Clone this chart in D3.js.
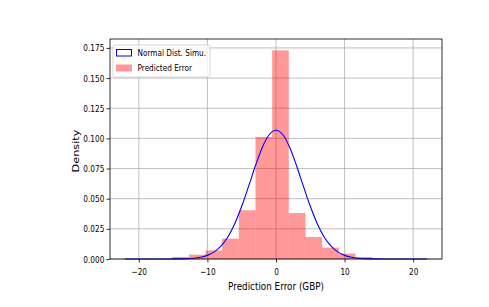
<!DOCTYPE html>
<html>
<head>
<meta charset="utf-8">
<script src="https://cdn.jsdelivr.net/npm/d3@7"></script>
<style>
  body { margin: 0; background: white; }
  svg { display: block; font-family: "DejaVu Sans", sans-serif; }
</style>
</head>
<body>
<div id="chart"></div>
<script>
// histogram bin edges and densities
const binEdges = [-15.14, -12.71, -10.28, -7.85, -5.42, -2.99, -0.56, 1.87, 4.30, 6.73, 9.16, 11.59, 14.02]
const binDensity = [0.0017, 0.0036, 0.0072, 0.0169, 0.0404, 0.1012, 0.173, 0.0381, 0.0182, 0.0094, 0.0045, 0.0017]

// simulated normal curve, sampled points
const curveX = [-22, -18, -16, -14, -12, -11, -10, -9, -8, -7, -6, -5, -4, -3, -2, -1, 0,
  1, 2, 3, 4, 5, 6, 7, 8, 9, 10, 11, 12, 14, 16, 18, 22]
const curveY = [0, 0, 0, 0.0001, 0.0006, 0.0014, 0.0030, 0.0059, 0.0108, 0.0185, 0.0295, 0.0437, 0.0602, 0.0773, 0.0925, 0.1030, 0.1067,
  0.1030, 0.0925, 0.0773, 0.0602, 0.0437, 0.0295, 0.0185, 0.0108, 0.0059, 0.0030, 0.0014, 0.0006, 0.0001, 0, 0, 0]

const xTicks = [-20, -10, 0, 10, 20]
const yTicks = [0, 0.025, 0.05, 0.075, 0.1, 0.125, 0.15, 0.175]
const legendLabels = ["Normal Dist. Simu.", "Predicted Error"]

// the picture is squeezed horizontally
const squeeze = 0.78

let dimensions = {
  width: 489,
  height: 307,
  margin: { top: 39, right: 47, bottom: 48, left: 110 },
}
dimensions.boundedWidth = dimensions.width - dimensions.margin.left - dimensions.margin.right
dimensions.boundedHeight = dimensions.height - dimensions.margin.top - dimensions.margin.bottom

const wrapper = d3.select("#chart")
  .append("svg")
    .attr("width", dimensions.width)
    .attr("height", dimensions.height)

const bounds = wrapper.append("g")
    .attr("transform", `translate(${dimensions.margin.left}, ${dimensions.margin.top})`)

const xScale = d3.scaleLinear()
  .domain([-24.2, 24.2])
  .range([0, dimensions.boundedWidth])

const yScale = d3.scaleLinear()
  .domain([0, 0.1824])
  .range([dimensions.boundedHeight, 0])

// grid
bounds.append("g").selectAll("line")
  .data(xTicks)
  .join("line")
    .attr("x1", d => xScale(d)).attr("x2", d => xScale(d))
    .attr("y1", 0).attr("y2", dimensions.boundedHeight)
    .attr("stroke", "#b0b0b0").attr("stroke-width", 0.8)

bounds.append("g").selectAll("line")
  .data(yTicks)
  .join("line")
    .attr("y1", d => yScale(d)).attr("y2", d => yScale(d))
    .attr("x1", 0).attr("x2", dimensions.boundedWidth)
    .attr("stroke", "#b0b0b0").attr("stroke-width", 0.8)

// histogram bars
bounds.append("g").selectAll("rect")
  .data(binDensity)
  .join("rect")
    .attr("x", (d, i) => xScale(binEdges[i]))
    .attr("width", (d, i) => xScale(binEdges[i + 1]) - xScale(binEdges[i]))
    .attr("y", d => yScale(d))
    .attr("height", d => dimensions.boundedHeight - yScale(d))
    .attr("fill", "red")
    .attr("fill-opacity", 0.4)

// normal curve
const lineGenerator = d3.line()
  .x((d, i) => xScale(curveX[i]))
  .y(d => yScale(d))
  .curve(d3.curveMonotoneX)

bounds.append("path")
    .attr("d", lineGenerator(curveY))
    .attr("fill", "none")
    .attr("stroke", "blue")
    .attr("stroke-width", 1.1)

// axes
const xAxis = bounds.append("g")
    .attr("transform", `translate(0, ${dimensions.boundedHeight})`)
  .call(d3.axisBottom(xScale).tickValues(xTicks).tickSize(3.5).tickPadding(5.5)
    .tickFormat(d => d3.format("d")(d).replace("-", "\u2212")))

const yAxis = bounds.append("g")
  .call(d3.axisLeft(yScale).tickValues(yTicks).tickSize(3.5).tickPadding(3)
    .tickFormat(d3.format(".3f")))

for (const ax of [xAxis, yAxis]) {
  ax.select(".domain").remove()
  ax.selectAll(".tick line").attr("stroke", "#000").attr("stroke-width", 0.8)
  ax.selectAll(".tick text")
    .attr("fill", "#000")
    .style("font-size", "9.4px")
    .style("font-family", "DejaVu Sans")
}
xAxis.selectAll(".tick text").attr("transform", `scale(${squeeze},1)`)
yAxis.selectAll(".tick text")
    .attr("x", -5.7 / squeeze)
    .attr("transform", `scale(${squeeze},1)`)

// frame
bounds.append("rect")
    .attr("width", dimensions.boundedWidth)
    .attr("height", dimensions.boundedHeight)
    .attr("fill", "none")
    .attr("stroke", "#000")
    .attr("stroke-width", 0.8)

// axis labels
wrapper.append("text")
    .attr("transform", `translate(${dimensions.margin.left + dimensions.boundedWidth / 2}, 290) scale(${squeeze},1)`)
    .attr("text-anchor", "middle")
    .style("font-size", "11.3px")
    .text("Prediction Error (GBP)")

wrapper.append("text")
    .attr("transform", `translate(78.5, ${dimensions.margin.top + dimensions.boundedHeight / 2 + 2}) rotate(-90) scale(1,${squeeze})`)
    .attr("text-anchor", "middle")
    .style("font-size", "11.3px")
    .text("Density")

// legend
const legend = bounds.append("g")
    .attr("transform", "translate(3, 6)")

legend.append("rect")
    .attr("width", 97)
    .attr("height", 32)
    .attr("rx", 2)
    .attr("fill", "white")
    .attr("fill-opacity", 0.8)
    .attr("stroke", "#cccccc")
    .attr("stroke-width", 0.8)

legend.append("rect")
    .attr("x", 3.5).attr("y", 4.5)
    .attr("width", 15).attr("height", 6.5)
    .attr("fill", "white")
    .attr("stroke", "blue")
    .attr("stroke-width", 1)

legend.append("rect")
    .attr("x", 3).attr("y", 19.5)
    .attr("width", 16).attr("height", 7)
    .attr("fill", "red")
    .attr("fill-opacity", 0.4)

legend.selectAll(".legend-text")
  .data(legendLabels)
  .join("text")
    .attr("class", "legend-text")
    .attr("transform", (d, i) => `translate(24.5, ${7.5 + i * 15.5}) scale(${squeeze},1)`)
    .attr("dy", "0.35em")
    .style("font-size", "9.4px")
    .text(d => d)
</script>
</body>
</html>
